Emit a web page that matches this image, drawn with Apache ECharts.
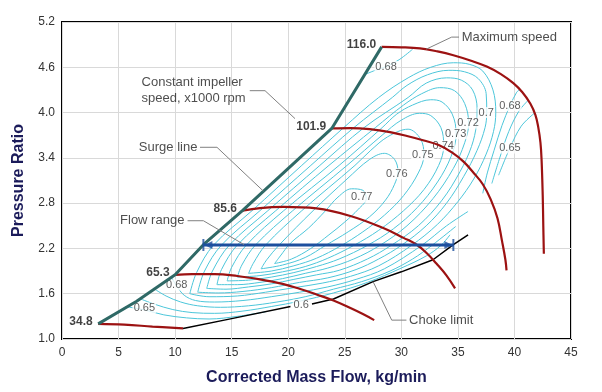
<!DOCTYPE html>
<html><head><meta charset="utf-8">
<script src="https://cdn.jsdelivr.net/npm/echarts@6/dist/echarts.min.js"></script>
<style>html,body{margin:0;padding:0;background:#fff}#c{width:602px;height:392px}</style>
</head><body><div id="c"></div>
<script>
// ---- tick labels ----
const xTicks = ['0','5','10','15','20','25','30','35','40','45'];
const yTicks = ['1.0','1.6','2.2','2.8','3.4','4.0','4.6','5.2'];

// ---- boundary lines (mass flow, pressure ratio) ----
const surgeLine = [[3.2,1.2],[6.6,1.5],[10.0,1.85],[12.5,2.25],[15.95,2.70],[23.85,3.79],[28.26,4.87]];
const speed348 = [[3.2,1.2],[5.5,1.19],[8,1.165],[10.7,1.14]];
const speed653 = [[10.0,1.85],[11.5,1.86],[13.5,1.86],[15.5,1.835],[17.5,1.79],[19.5,1.73],[21.0,1.665],[22.5,1.59],[24.0,1.51],[25.5,1.41],[26.6,1.33],[27.6,1.25]];
const speed856 = [[15.95,2.70],[17.5,2.735],[19.6,2.75],[22.5,2.73],[25.5,2.63],[28.4,2.47],[30.2,2.34],[31.4,2.245],[32.3,2.13],[33.1,2.0],[34.0,1.84],[34.75,1.67]];
const speed1019 = [[23.85,3.79],[25.5,3.795],[27.2,3.78],[29,3.74],[30.5,3.69],[32,3.63],[33.3,3.57],[34.5,3.47],[35.5,3.35],[36.4,3.2],[37.2,3.05],[37.9,2.85],[38.5,2.6],[38.9,2.3],[39.2,2.05],[39.3,1.91]];
const speed1160 = [[28.26,4.87],[30,4.865],[31.65,4.85],[33.2,4.81],[34.6,4.76],[36.1,4.69],[37.55,4.61],[38.8,4.51],[39.9,4.39],[40.7,4.27],[41.4,4.12],[41.85,3.97],[42.1,3.81],[42.3,3.6],[42.4,3.37],[42.5,2.9],[42.55,2.5],[42.6,2.13]];
const chokeA = [[10.7,1.14],[15,1.27],[20.2,1.43]];
const chokeB = [[22.1,1.465],[24.0,1.53],[27.5,1.76],[30,1.89],[32.8,2.05],[34.6,2.25],[35.9,2.38]];
const flowRange = [[12.5,2.245],[34.6,2.245]];

// ---- efficiency contours ----
const c77 = [[18.8,2.0],[20.3,2.06],[22,2.2],[23.6,2.38],[25,2.55],[26.2,2.72],[26.9,2.86],[26.6,2.97],[25.6,2.99],[24.4,2.88],[23.3,2.7],[21.8,2.47],[20.2,2.27],[19.3,2.1],[18.8,2.0]];
const c76 = [[17.6,1.93],[19.5,1.98],[21.5,2.08],[23.3,2.24],[25.3,2.42],[27.2,2.62],[28.6,2.84],[29.4,3.05],[29.7,3.22],[29.4,3.38],[28.5,3.46],[27.2,3.38],[25.2,3.12],[22.2,2.7],[19.2,2.245],[18.1,2.05],[17.6,1.93]];
const c75 = [[16.5,1.87],[18.5,1.9],[20.5,1.97],[22.5,2.07],[24.6,2.23],[26.6,2.42],[28.5,2.64],[30.2,2.9],[31.5,3.2],[32.0,3.44],[31.7,3.65],[30.6,3.78],[28.8,3.68],[27.3,3.5],[25.9,3.3],[21.2,2.7],[18.0,2.245],[16.9,2.0],[16.5,1.87]];
const c74 = [[15.5,1.82],[17.5,1.84],[19.5,1.89],[21.5,1.96],[23.5,2.07],[25.8,2.24],[28,2.44],[30.2,2.7],[32,2.98],[33.3,3.3],[33.75,3.56],[33.5,3.8],[32.6,3.96],[31.6,3.99],[30,3.9],[28.3,3.7],[25.2,3.3],[20.4,2.7],[17.1,2.245],[15.9,1.98],[15.5,1.82]];
const c73 = [[14.6,1.77],[16.5,1.78],[18.5,1.82],[20.5,1.88],[22.5,1.96],[24.5,2.06],[27.0,2.24],[29.3,2.46],[31.4,2.74],[33.2,3.08],[34.4,3.42],[34.85,3.72],[34.5,3.98],[33.6,4.14],[32.6,4.17],[31,4.1],[29.6,3.98],[28.3,3.8],[24.5,3.3],[19.6,2.7],[16.3,2.245],[15.0,1.95],[14.6,1.77]];
const c72 = [[13.7,1.72],[15.5,1.72],[17.5,1.75],[19.5,1.80],[21.5,1.87],[23.5,1.94],[25.8,2.06],[28.1,2.24],[30.5,2.5],[32.8,2.86],[34.6,3.26],[35.6,3.6],[35.95,3.86],[35.6,4.12],[34.7,4.29],[33.4,4.33],[31.8,4.25],[30.2,4.1],[27.7,3.8],[23.6,3.3],[18.9,2.7],[15.5,2.245],[14.1,1.92],[13.7,1.72]];
const c71 = [[12.8,1.67],[14.5,1.66],[16.5,1.69],[18.5,1.73],[20.5,1.79],[22.5,1.85],[24.5,1.91],[27,2.06],[29.1,2.24],[31.5,2.5],[33.6,2.84],[35.2,3.22],[36.2,3.55],[36.65,3.85],[36.7,4.05],[36.3,4.3],[35.3,4.43],[34.0,4.46],[32.2,4.39],[30.6,4.2],[26.7,3.8],[22.8,3.3],[18.2,2.7],[14.8,2.245],[13.3,1.9],[12.8,1.67]];
const c70 = [[12.0,1.62],[13.8,1.61],[16,1.63],[18.5,1.68],[21,1.75],[23.5,1.81],[26,1.92],[28,2.06],[30.0,2.24],[32.2,2.5],[34.0,2.8],[35.5,3.15],[36.7,3.5],[37.4,3.8],[37.55,4.0],[37.5,4.25],[36.8,4.45],[35.6,4.54],[34.2,4.56],[32.3,4.5],[30.5,4.36],[29.2,4.2],[25.8,3.8],[22.0,3.3],[17.5,2.7],[14.1,2.245],[12.6,1.9],[12.0,1.62]];
const c69 = [[11.3,1.60],[13,1.56],[15.5,1.57],[18,1.62],[20.5,1.68],[23,1.74],[25.5,1.83],[28,1.97],[30.9,2.24],[33.2,2.52],[35,2.82],[36.4,3.12],[37.5,3.45],[38.15,3.75],[38.35,4.0],[38.1,4.3],[37.2,4.55],[36.0,4.64],[34.6,4.66],[32.6,4.6],[30.6,4.46],[28.0,4.2],[24.9,3.8],[21.2,3.3],[16.8,2.7],[13.4,2.245],[11.9,1.88],[11.3,1.60]];
const c68low = [[9.7,1.81],[10.15,1.70],[10.8,1.58],[11.8,1.51],[13.5,1.49],[16,1.51],[18.5,1.56],[21,1.62],[23.5,1.69],[26,1.79],[28.5,1.93],[31.8,2.24],[34,2.5],[35.9,2.69]];
const c68top = [[26.7,4.5],[27.7,4.56],[28.65,4.61],[29.8,4.7],[31.0,4.84]];
const c68right = [[37.2,2.93],[37.6,3.2],[38.2,3.5],[38.9,3.83],[39.6,4.09],[40.2,4.27],[40.45,4.3]];
const c67low = [[8.1,1.67],[9.2,1.57],[10.5,1.49],[12,1.44],[14,1.42],[16.5,1.44],[19,1.49],[21.5,1.56],[24,1.66],[26.5,1.76],[29,1.9],[31,2.06],[32.7,2.24],[34.8,2.49]];
const c67right = [[38.0,3.06],[38.7,3.4],[39.5,3.75],[40.4,4.02],[41.2,4.16]];
const c66low = [[6.8,1.54],[8.2,1.46],[9.8,1.39],[11.5,1.35],[13.5,1.34],[16,1.37],[18.5,1.43],[21,1.5],[24,1.61],[27,1.75],[30,1.94],[32.2,2.1],[33.5,2.24],[34.3,2.38]];
const c65low = [[5.6,1.43],[7.3,1.385],[9,1.32],[11,1.28],[13,1.265],[15.5,1.30],[18,1.36]];
const c65right = [[38.6,3.17],[39.6,3.53],[40.6,3.82],[41.75,3.99]];

// contour labels: text, flow, ratio
const contourLabels = [
  ['0.77',26.5,2.88],['0.76',29.6,3.19],['0.75',31.9,3.44],['0.74',33.7,3.56],
  ['0.73',34.8,3.72],['0.72',35.9,3.86],['0.7',37.5,4.0],['0.68',39.6,4.09],
  ['0.65',39.6,3.53],['0.68',28.65,4.61],['0.68',10.14,1.715],['0.65',7.28,1.41],['0.6',21.15,1.45]
];
// speed labels (x1000 rpm) at start of each speed line
const speedNames = ['34.8','65.3','85.6','101.9','116.0'];

// annotations
const annLeft = [['Maximum speed',35.2,5.0],['Constant impeller\nspeed, x1000 rpm',6.9,4.295],['Choke limit',30.55,1.25]];
const annRight = [['Surge line',12.1,3.54],['Flow range',10.95,2.576]];
const leadMax = [[35.1,5.0],[34.45,5.0],[32.2,4.84]];
const leadConst = [[16.6,4.29],[17.95,4.29],[20.6,3.92]];
const leadSurge = [[12.2,3.54],[13.7,3.54],[17.8,2.96]];
const leadFlow = [[11.1,2.567],[12.5,2.567],[16.1,2.25]];
const leadChoke = [[30.45,1.25],[29.15,1.25],[27.5,1.76]];

const CYAN = '#4cc6da', RED = '#9c1212', TEAL = '#2f6966', BLUE = '#1d4f9e', GREY = '#808080';
const FONT = 'Liberation Sans, Arial, sans-serif';

const series = [];
const contours = [c77,c76,c75,c74,c73,c72,c71,c70,c69,c68low,c68top,c68right,c67low,c67right,c66low,c65low,c65right];
contours.forEach(d => series.push({type:'line', data:d, symbol:'none', smooth:0.35, silent:true,
  lineStyle:{color:CYAN, width:1}, z:1}));

series.push({type:'scatter', symbolSize:1, itemStyle:{color:'rgba(0,0,0,0)'}, z:2,
  data: contourLabels.map(l => ({name:l[0], value:[l[1], l[2]]})),
  label:{show:true, position:'inside', formatter:p=>p.name, fontSize:11, color:'#333',
    fontFamily:FONT, backgroundColor:'#fff', padding:[0,1]}});

[chokeA, chokeB].forEach(d => series.push({type:'line', data:d, symbol:'none', silent:true,
  lineStyle:{color:'#000', width:1.5}, z:3}));
const speeds = [speed348, speed653, speed856, speed1019, speed1160];
speeds.forEach(d => series.push({type:'line', data:d, symbol:'none', smooth:0.4, silent:true,
  lineStyle:{color:RED, width:2.2}, z:3}));
series.push({type:'line', data:surgeLine, symbol:'none', silent:true, lineStyle:{color:TEAL, width:3}, z:4});

series.push({type:'scatter', symbolSize:1, itemStyle:{color:'rgba(0,0,0,0)'}, z:6,
  data: speeds.map((d,i) => ({name:speedNames[i], value:d[0]})),
  label:{show:true, position:'left', distance:5, offset:[0,-2], formatter:p=>p.name, fontSize:12,
    fontWeight:'bold', color:'#111', fontFamily:FONT}});

// flow range arrow
series.push({type:'line', data:flowRange, symbol:'none', silent:true, lineStyle:{color:BLUE, width:3}, z:5});
series.push({type:'scatter', z:5, silent:true, itemStyle:{color:BLUE},
  data:[
    {value:flowRange[0], symbol:'path://M0,0 L2,0 L2,12 L0,12 Z M2,6 L10,2 L10,10 Z', symbolSize:[10,12], symbolOffset:[4,0]},
    {value:flowRange[1], symbol:'path://M8,0 L10,0 L10,12 L8,12 Z M8,6 L0,2 L0,10 Z', symbolSize:[10,12], symbolOffset:[-4,0]}
  ]});

// leaders
[leadMax, leadConst, leadSurge, leadFlow, leadChoke].forEach(d => series.push({type:'line', data:d, symbol:'none',
  silent:true, lineStyle:{color:GREY, width:1}, z:5}));
series.push({type:'scatter', symbolSize:1, itemStyle:{color:'rgba(0,0,0,0)'}, z:6,
  data: annLeft.map(a => ({name:a[0], value:[a[1], a[2]]})),
  label:{show:true, position:'right', distance:1, formatter:p=>p.name, fontSize:13, lineHeight:16,
    color:'#222', fontFamily:FONT, align:'left'}});
series.push({type:'scatter', symbolSize:1, itemStyle:{color:'rgba(0,0,0,0)'}, z:6,
  data: annRight.map(a => ({name:a[0], value:[a[1], a[2]]})),
  label:{show:true, position:'left', distance:1, formatter:p=>p.name, fontSize:13,
    color:'#222', fontFamily:FONT}});

const chart = echarts.init(document.getElementById('c'), null, {renderer:'canvas'});
chart.setOption({
  animation:false,
  textStyle:{fontFamily:FONT},
  grid:{left:62, right:31, top:22, bottom:53, show:true, borderColor:'#000', borderWidth:2, backgroundColor:'rgba(0,0,0,0)'},
  xAxis:{type:'value', min:0, max:45, interval:5,
    name:'Corrected Mass Flow, kg/min', nameLocation:'middle', nameGap:31,
    nameTextStyle:{fontSize:16, fontWeight:'bold', color:'#1b1b5a', fontFamily:FONT},
    axisLine:{show:false}, axisTick:{show:false},
    axisLabel:{color:'#333', fontSize:12, margin:8, formatter:(v,i)=>xTicks[i]},
    splitLine:{lineStyle:{color:'#d9d9d9', width:1}}},
  yAxis:[
    {type:'value', min:1.0, max:5.2, show:false, splitLine:{show:false}},
    {type:'value', min:0, max:4.2, interval:0.6, position:'left',
      name:'Pressure Ratio', nameLocation:'middle', nameGap:35, nameRotate:90,
      nameTextStyle:{fontSize:16, fontWeight:'bold', color:'#1b1b5a', fontFamily:FONT},
      axisLine:{show:false}, axisTick:{show:false},
      axisLabel:{color:'#333', fontSize:12, margin:7, formatter:(v,i)=>yTicks[i]},
      splitLine:{lineStyle:{color:'#d9d9d9', width:1}}}
  ],
  series: series
});
</script></body></html>
